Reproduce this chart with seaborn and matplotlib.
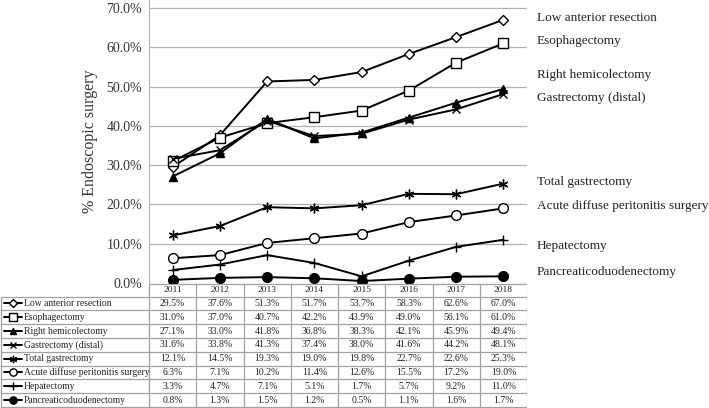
import numpy as np
import pandas as pd
import seaborn as sns
import matplotlib.pyplot as plt
from matplotlib.ticker import FuncFormatter

years = ["2011", "2012", "2013", "2014", "2015", "2016", "2017", "2018"]

low_anterior = [29.5, 37.6, 51.3, 51.7, 53.7, 58.3, 62.6, 67.0]
esophagectomy = [31.0, 37.0, 40.7, 42.2, 43.9, 49.0, 56.1, 61.0]
right_hemi = [27.1, 33.0, 41.8, 36.8, 38.3, 42.1, 45.9, 49.4]
gastr_distal = [31.6, 33.8, 41.3, 37.4, 38.0, 41.6, 44.2, 48.1]
total_gastr = [12.1, 14.5, 19.3, 19.0, 19.8, 22.7, 22.6, 25.3]
acute_perit = [6.3, 7.1, 10.2, 11.4, 12.6, 15.5, 17.2, 19.0]
hepatectomy = [3.3, 4.7, 7.1, 5.1, 1.7, 5.7, 9.2, 11.0]
pancreatico = [0.8, 1.3, 1.5, 1.2, 0.5, 1.1, 1.6, 1.7]

names = ["Low anterior resection", "Esophagectomy", "Right hemicolectomy",
         "Gastrectomy (distal)", "Total gastrectomy",
         "Acute diffuse peritonitis surgery", "Hepatectomy",
         "Pancreaticoduodenectomy"]
series = [low_anterior, esophagectomy, right_hemi, gastr_distal,
          total_gastr, acute_perit, hepatectomy, pancreatico]

# marker, face colour, size
styles = [("D", "white", 5), ("s", "white", 7), ("^", "black", 6),
          ("x", "black", 6), ((6, 2, 0), "black", 7), ("o", "white", 7),
          ("+", "black", 7), ("o", "black", 7)]

# label y positions (pixels from top) for the right-side annotations
label_py = [18, 41, 75, 98, 182, 206, 246, 272]

sns.set_style("white")
plt.rcParams['font.family'] = ['Liberation Serif', 'DejaVu Serif']

W, H = 709, 408
fig = plt.figure(figsize=(W / 100, H / 100), dpi=100)
x0, x1, ybot = 149, 527, 283
ax = fig.add_axes([x0 / W, 1 - ybot / H, (x1 - x0) / W, ybot / H])

grid_c = "#b0b0b0"
for name, vals, (mk, fc, ms) in zip(names, series, styles):
    df = pd.DataFrame({"year": years, "pct": vals})
    sns.lineplot(data=df, x="year", y="pct", ax=ax, color="black",
                 linewidth=1.4, marker=mk, markersize=ms,
                 markerfacecolor=fc, markeredgecolor="black",
                 markeredgewidth=1.0, sort=False)

ax.set_xlim(-0.5, 7.5)
ax.set_ylim(0, 72.04)
ax.set_yticks(np.arange(0, 71, 10))
ax.yaxis.set_major_formatter(FuncFormatter(lambda v, p: f"{v:.1f}%"))
ax.set_xticks([])
ax.set_xlabel("")
ax.grid(axis="y", color=grid_c, linewidth=0.9)
ax.set_axisbelow(True)
for s in ["top", "right", "bottom"]:
    ax.spines[s].set_visible(False)
ax.spines["left"].set_color(grid_c)
ax.tick_params(axis="y", length=0, pad=5, labelsize=10, labelcolor="#333333")
ax.set_ylabel("% Endoscopic surgery", fontsize=11.5, color="#333333",
              labelpad=6)

for name, py in zip(names, label_py):
    fig.text(537 / W, 1 - py / H, name, fontsize=9.5, va="center",
             ha="left", color="#222222")

# data table under the chart
tb = fig.add_axes([0, 0, x1 / W, (H - ybot) / H])
tb.set_xlim(0, x1)
tb.set_ylim(H - ybot, 0)
tb.axis("off")
hdr = 13.5
rh = (H - ybot - hdr - 1) / len(names)
colw = (x1 - x0) / len(years)
tc = "#a0a0a0"
# horizontal lines
tb.plot([x0, x1], [0.5, 0.5], color=tc, lw=0.9)
for i in range(len(names) + 1):
    yy = hdr + i * rh
    tb.plot([1, x1], [yy, yy], color=tc, lw=0.9)
# vertical lines
tb.plot([1, 1], [hdr, hdr + len(names) * rh], color=tc, lw=0.9)
for j in range(len(years) + 1):
    xx = x0 + j * colw
    tb.plot([xx, xx], [0.5, hdr + len(names) * rh], color=tc, lw=0.9)
for j, yr in enumerate(years):
    tb.text(x0 + (j + 0.5) * colw, hdr / 2 + 0.5, yr, fontsize=6.8,
            ha="center", va="center", color="#222222")
for i, (name, vals, (mk, fc, ms)) in enumerate(zip(names, series, styles)):
    yc = hdr + (i + 0.5) * rh
    tb.plot([4, 22], [yc, yc], color="black", lw=1.4)
    tb.plot([13], [yc], marker=mk, markersize=ms * 0.75, markerfacecolor=fc,
            markeredgecolor="black", markeredgewidth=1.0, color="black")
    tb.text(24, yc, name, fontsize=6.9, ha="left", va="center",
            color="#222222")
    for j, v in enumerate(vals):
        tb.text(x0 + (j + 0.5) * colw, yc, f"{v:.1f}%", fontsize=7.0,
                ha="center", va="center", color="#222222")

fig.savefig("out.png", dpi=100)
